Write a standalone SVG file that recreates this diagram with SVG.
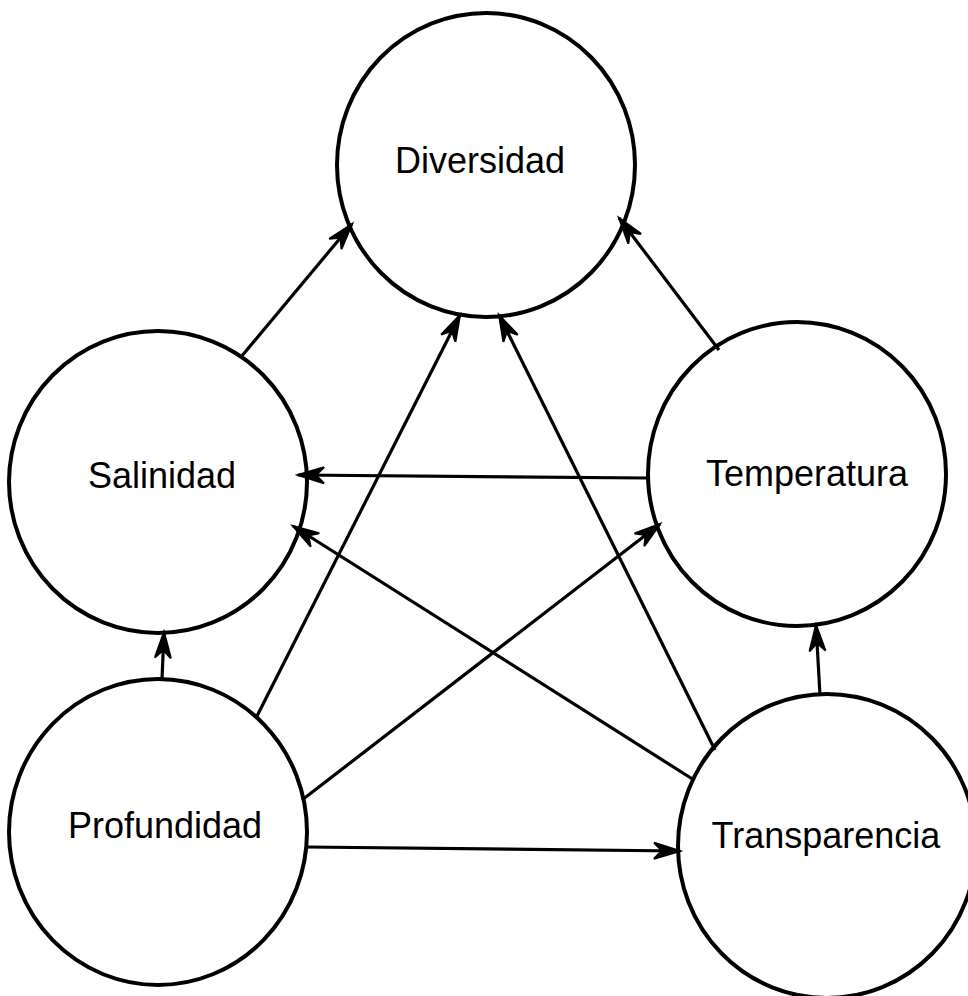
<svg xmlns="http://www.w3.org/2000/svg" width="968" height="996" viewBox="0 0 968 996">
<style>
.node ellipse{fill:#fff;stroke:#000;stroke-width:4}
.node text{font-family:"Liberation Sans",Arial,sans-serif;font-size:36px;fill:#000;text-anchor:middle}
.edges line{stroke:#000;stroke-width:3.2;marker-end:url(#ah)}
</style>
<defs>
<marker id="ah" markerWidth="32" markerHeight="22" refX="29" refY="11" orient="auto" markerUnits="userSpaceOnUse">
<path d="M29,11 L3,3 L11,11 L3,19 Z" fill="#000" stroke="#000" stroke-width="2" stroke-linejoin="miter"/>
</marker>
</defs>
<rect width="968" height="996" fill="#fff"/>
<g id="diversidad" class="node"><ellipse cx="486" cy="165" rx="149" ry="152"/><text x="480" y="173">Diversidad</text></g>
<g id="salinidad" class="node"><ellipse cx="158" cy="482" rx="149" ry="151"/><text x="162" y="488">Salinidad</text></g>
<g id="temperatura" class="node"><ellipse cx="797" cy="474" rx="149" ry="152"/><text x="807" y="486">Temperatura</text></g>
<g id="profundidad" class="node"><ellipse cx="158" cy="832" rx="149" ry="153"/><text x="165" y="838">Profundidad</text></g>
<g id="transparencia" class="node"><ellipse cx="827" cy="846" rx="149" ry="152"/><text x="826" y="848">Transparencia</text></g>
<g id="connectors" class="edges">
<line x1="241" y1="357" x2="352" y2="224"/>
<line x1="719" y1="350" x2="619" y2="218"/>
<line x1="256" y1="718" x2="460" y2="315"/>
<line x1="715" y1="750" x2="499" y2="315"/>
<line x1="647" y1="478" x2="298" y2="475"/>
<line x1="694" y1="780" x2="293" y2="526"/>
<line x1="302" y1="800" x2="660" y2="524"/>
<line x1="162" y1="679" x2="164" y2="632"/>
<line x1="820" y1="695" x2="816" y2="625"/>
<line x1="306" y1="847" x2="680" y2="851"/>
</g>
</svg>
